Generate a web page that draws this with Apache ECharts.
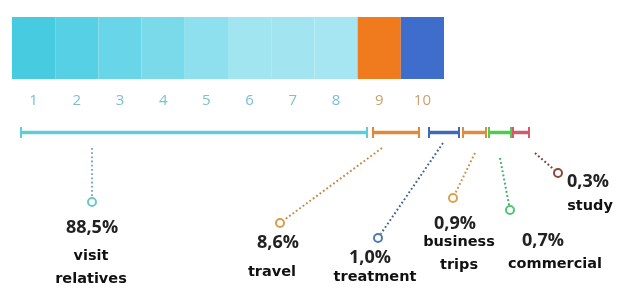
<!DOCTYPE html>
<html>
<head>
<meta charset="utf-8">
<script src="https://cdn.jsdelivr.net/npm/echarts@6/dist/echarts.min.js"></script>
<style>
html,body{margin:0;padding:0;background:#fff;}
#chart{width:624px;height:296px;}
</style>
</head>
<body>
<div id="chart"></div>
<script>
// ---- data ----
const blockLabels = ['1','2','3','4','5','6','7','8','9','10'];
const blockValues = [1,1,1,1,1,1,1,1,1,1];
const purposes = ['visit\nrelatives','travel','treatment','business\ntrips','commercial','study'];
const shares = [88.5, 8.6, 1.0, 0.9, 0.7, 0.3];

// ---- styles ----
const blockColors = ['#46cbe1','#56d0e5','#68d5e8','#7bdaea','#8fe0ee','#a1e5f1','#a2e5f1','#a5e6f2','#f07a1e','#3e6dcb'];
const blockLabelColors = ['#7cc0cd','#7cc0cd','#7cc0cd','#7cc0cd','#7cc0cd','#7cc0cd','#7cc0cd','#7cc0cd','#c9a071','#c9a071'];
const bracketColors = ['#5fcdd6','#de8a3c','#3f69b6','#e08c3e','#4fcb4f','#d5596a'];
const leaderColors = ['#7fb0bb','#c08a48','#46658e','#c99048','#35b064','#7e4236'];
const ringColors = ['#6cc5cd','#d89c4c','#4f7bb0','#daa24c','#4cc872','#8a4840'];

// ---- layout (pixel frame) ----
const bracketSpan = [[21,367],[373,419],[429,459],[463,486],[489,511],[513,529]];
const bracketY = 132.5;
const leaderFrom = [[92,148],[382,148],[443,143],[475,153],[500,158],[535,153]];
const ringAt = [[92,202],[280,223],[378,238],[453,198],[510,210],[558,173]];
const pctAt = [[92,228],[278,243],[370,258],[455,224],[543,241],[588,182]];
const nameAt = [[91,268],[272,272],[375,277],[459,254],[555,264],[590,206]];

const chart = echarts.init(document.getElementById('chart'), null, {renderer:'canvas'});

function fmtPct(v){ return v.toFixed(1).replace('.', ',') + '%'; }

const annData = purposes.map((p,i)=>[i]);

chart.setOption({
  animation:false,
  backgroundColor:'#ffffff',
  grid:[
    {left:12, top:17, width:432, height:62, containLabel:false},
    {left:0, top:0, right:0, bottom:0, containLabel:false}
  ],
  xAxis:[
    {type:'category', gridIndex:0, data:blockLabels,
     axisLine:{show:false}, axisTick:{show:false},
     axisLabel:{show:true, margin:14, fontFamily:'Open Sans', fontSize:15,
       color:function(v, idx){ return blockLabelColors[blockLabels.indexOf(v)]; }}},
    {type:'value', gridIndex:1, min:0, max:624, show:false}
  ],
  yAxis:[
    {type:'value', gridIndex:0, min:0, max:1, show:false},
    {type:'value', gridIndex:1, min:0, max:296, inverse:true, show:false}
  ],
  series:[
    {type:'bar', xAxisIndex:0, yAxisIndex:0, barWidth:'100%', barCategoryGap:'0%',
     data: blockValues.map((v,i)=>({value:v, itemStyle:{color:blockColors[i]}})),
     silent:true},
    {type:'custom', xAxisIndex:1, yAxisIndex:1, silent:true,
     data: annData,
     renderItem:function(params, api){
       const i = api.value(0);
       const ch = [];
       const s = bracketSpan[i];
       const a = api.coord([s[0], bracketY]);
       const b = api.coord([s[1], bracketY]);
       const col = bracketColors[i];
       ch.push({type:'line', shape:{x1:a[0],y1:a[1],x2:b[0],y2:b[1]}, style:{stroke:col, lineWidth:3.5}});
       ch.push({type:'line', shape:{x1:a[0],y1:a[1]-5.5,x2:a[0],y2:a[1]+5.5}, style:{stroke:col, lineWidth:2}});
       ch.push({type:'line', shape:{x1:b[0],y1:b[1]-5.5,x2:b[0],y2:b[1]+5.5}, style:{stroke:col, lineWidth:2}});
       const f = api.coord(leaderFrom[i]);
       const r = api.coord(ringAt[i]);
       const dx = r[0]-f[0], dy = r[1]-f[1];
       const len = Math.sqrt(dx*dx+dy*dy);
       const ex = r[0]-dx/len*5, ey = r[1]-dy/len*5;
       ch.push({type:'line', shape:{x1:f[0],y1:f[1],x2:ex,y2:ey},
         style:{stroke:leaderColors[i], lineWidth:2, lineDash:[1.8,2.4], lineCap:'butt'}});
       ch.push({type:'circle', shape:{cx:r[0],cy:r[1],r:4}, style:{fill:'#fff', stroke:ringColors[i], lineWidth:2}});
       const pp = api.coord(pctAt[i]);
       ch.push({type:'text', x:pp[0], y:pp[1], style:{text:fmtPct(shares[i]), fill:'#222', font:'bold 18px "Open Sans"', align:'center', verticalAlign:'middle'}});
       const np = api.coord(nameAt[i]);
       ch.push({type:'text', x:np[0], y:np[1], style:{text:purposes[i], fill:'#111', font:'bold 14.5px "DejaVu Sans"', align:'center', verticalAlign:'middle', lineHeight:23}});
       return {type:'group', children:ch};
     }}
  ]
});
</script>
</body>
</html>
